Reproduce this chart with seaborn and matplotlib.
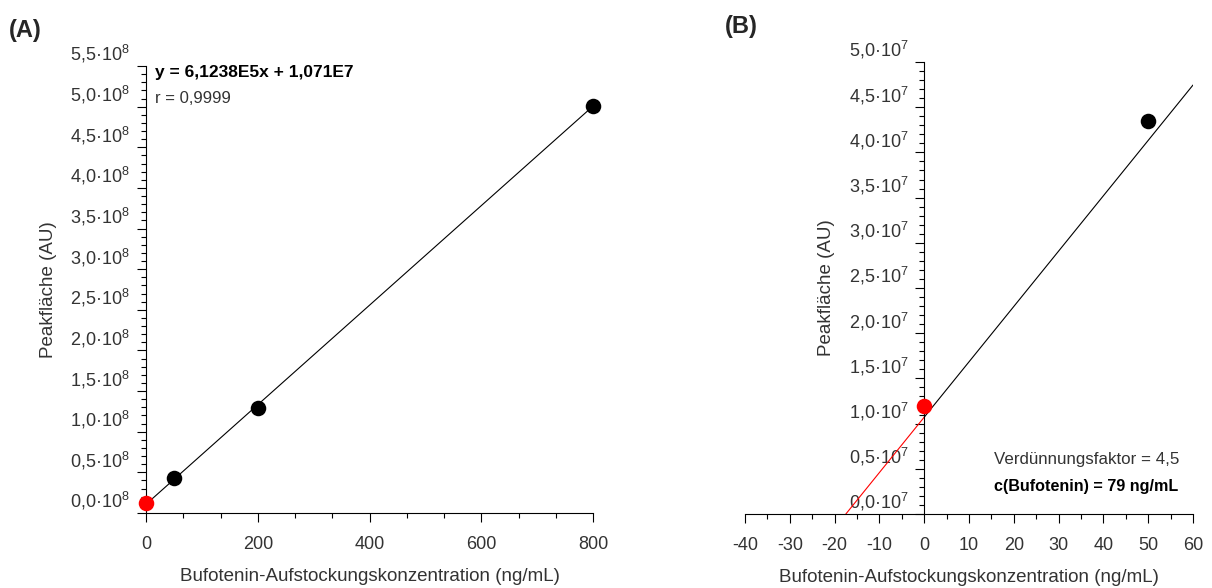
import matplotlib
matplotlib.use("Agg")
import matplotlib.pyplot as plt
import seaborn as sns
import numpy as np
from matplotlib.ticker import MultipleLocator, AutoMinorLocator, FuncFormatter
from matplotlib.transforms import ScaledTranslation

# standard addition data
conc_a = [0, 50, 200, 800]
area_a = [1.2e7, 4.35e7, 1.29e8, 5.01e8]
conc_b = [0, 50]
area_b = [1.2e7, 4.35e7]

slope = 6.1238e5
intercept = 1.071e7

eq_text = "y = 6,1238E5x + 1,071E7"
r_text = "r = 0,9999"
dil_text = "Verdünnungsfaktor = 4,5"
conc_text = "c(Bufotenin) = 79 ng/mL"
xlabel = "Bufotenin-Aufstockungskonzentration (ng/mL)"
ylabel = "Peakfläche (AU)"

sns.set_style("ticks")
plt.rcParams["font.family"] = ["Liberation Sans", "DejaVu Sans"]
plt.rcParams["mathtext.fontset"] = "custom"
plt.rcParams["mathtext.rm"] = "Liberation Sans"
plt.rcParams["mathtext.it"] = "Liberation Sans"
plt.rcParams["axes.unicode_minus"] = False

txt = "#333333"
W, H = 1212, 588
fig = plt.figure(figsize=(W / 100, H / 100), dpi=100)
ax_a = fig.add_axes([146 / W, 1 - 513 / H, (593 - 146) / W, (513 - 66) / H])
ax_b = fig.add_axes([745 / W, 1 - 514 / H, (1193 - 745) / W, (514 - 62) / H])


def sci_fmt(exp):
    def f(v, pos):
        return f"{v / 10**exp:.1f}".replace(".", ",") + "·10$^{%d}$" % exp
    return FuncFormatter(f)


def style_axis(ax, xmajor, xminor_n, ymajor, exp):
    sns.despine(ax=ax)
    ax.xaxis.set_major_locator(MultipleLocator(xmajor))
    ax.xaxis.set_minor_locator(AutoMinorLocator(xminor_n))
    ax.yaxis.set_major_locator(MultipleLocator(ymajor))
    ax.yaxis.set_minor_locator(AutoMinorLocator(5))
    ax.yaxis.set_major_formatter(sci_fmt(exp))
    ax.tick_params(which="major", direction="out", length=6.5, width=0.8,
                   labelsize=13, labelcolor=txt, color="black")
    ax.tick_params(which="minor", direction="out", length=3.6, width=0.8, color="black")
    ax.tick_params(axis="x", pad=10)
    ax.tick_params(axis="y", pad=5)
    for sp in ax.spines.values():
        sp.set_linewidth(0.8)
        sp.set_color("black")
    ax.set_xlabel(xlabel, fontsize=13.5, color=txt, labelpad=11)
    ax.set_ylabel(ylabel, fontsize=13.5, color=txt, labelpad=10)


# ---- panel A ----
ax = ax_a
xa = np.array([min(conc_a), max(conc_a)])
sns.lineplot(x=xa, y=slope * xa + intercept, ax=ax, color="black", lw=0.8,
             estimator=None, sort=False)
sns.scatterplot(x=conc_a[1:], y=area_a[1:], ax=ax, color="black", s=125,
                linewidth=0, zorder=5, clip_on=False)
sns.scatterplot(x=conc_a[:1], y=area_a[:1], ax=ax, color="red", s=125,
                linewidth=0, zorder=6, clip_on=False)
ax.set_xlim(0, 800)
ax.set_ylim(0, 5.5e8)
style_axis(ax, 200, 3, 0.5e8, 8)
ax.text(0.02, 0.985, eq_text, transform=ax.transAxes, fontsize=12.5,
        fontweight="bold", color="black", va="center")
ax.text(0.02, 0.927, r_text, transform=ax.transAxes, fontsize=12,
        color=txt, va="center")

# ---- panel B ----
ax = ax_b
x0 = -intercept / slope
xb_black = np.array([0, 60])
xb_red = np.array([x0, 0])
sns.lineplot(x=xb_black, y=slope * xb_black + intercept, ax=ax, color="black",
             lw=0.8, estimator=None, sort=False)
sns.lineplot(x=xb_red, y=slope * xb_red + intercept, ax=ax, color="red",
             lw=0.8, estimator=None, sort=False)
sns.scatterplot(x=conc_b[1:], y=area_b[1:], ax=ax, color="black", s=125,
                linewidth=0, zorder=5, clip_on=False)
sns.scatterplot(x=conc_b[:1], y=area_b[:1], ax=ax, color="red", s=125,
                linewidth=0, zorder=6, clip_on=False)
ax.set_xlim(-40, 60)
ax.set_ylim(0, 5.0e7)
style_axis(ax, 10, 2, 0.5e7, 7)
ax.spines["left"].set_position(("data", 0))
ax.text(0.555, 0.12, dil_text, transform=ax.transAxes, fontsize=12.2,
        color=txt, va="center")
ax.text(0.555, 0.06, conc_text, transform=ax.transAxes, fontsize=11.6,
        fontweight="bold", color="black", va="center")

# y tick labels sit a little above their ticks in the original
shift = ScaledTranslation(0, 10 / 72, fig.dpi_scale_trans)
for a in (ax_a, ax_b):
    for lab in a.get_yticklabels():
        lab.set_transform(lab.get_transform() + shift)

fig.text(9 / W, 1 - 30 / H, "(A)", fontsize=17, fontweight="bold", va="center")
fig.text(725 / W, 1 - 27 / H, "(B)", fontsize=17, fontweight="bold", va="center")

fig.savefig("out.png", dpi=100)
